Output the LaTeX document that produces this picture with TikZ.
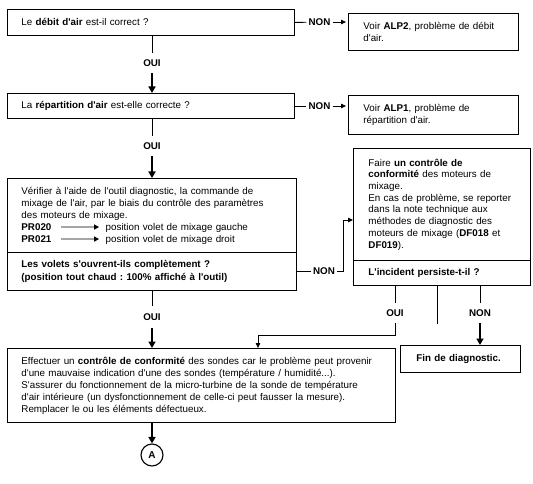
\documentclass[tikz,border=0pt]{standalone}
\usepackage{fontspec}
\setmainfont{Liberation Sans}[Ligatures=TeXOff]
\usetikzlibrary{arrows.meta}
\frenchspacing
\newcommand{\prarrow}{\tikz[baseline=-3pt]\draw[gray!70, line width=1.3pt, -{Triangle[width=5pt,length=5pt,black]}] (0pt,0pt)--(38pt,0pt);\hspace{6pt}}
\tikzset{
  txt/.style={font=\fontsize{9.8pt}{12pt}\selectfont},
  box/.style={txt, draw, line width=0.9pt, anchor=north west, align=left, inner xsep=14pt, inner ysep=0pt},
  lbl/.style={txt, font=\fontsize{9.8pt}{12pt}\selectfont\bfseries, inner xsep=2pt, inner ysep=6.5pt},
  conn/.style={line width=0.9pt},
  bigarrow/.style={line width=1.6pt, -{Triangle[width=7pt,length=6.5pt]}},
  smallarrow/.style={line width=0.8pt, -{Triangle[width=4.5pt,length=5pt]}},
}
\begin{document}
\frenchspacing
\begin{tikzpicture}[x=1pt,y=-1pt]
\useasboundingbox (0,0) rectangle (533,484);

% boxes
\node[box, text width=259pt, minimum height=26pt] (q1) at (7,9) {Le \textbf{débit d'air} est-il correct ?};
\node[box, text width=140pt, minimum height=37pt, inner xsep=15pt] (alp2) at (348,13) {Voir \textbf{ALP2}, problème de débit\\d'air.};
\node[box, text width=259pt, minimum height=25pt] (q2) at (7,93) {La \textbf{répartition d'air} est-elle correcte ?};
\node[box, text width=140pt, minimum height=39pt, inner xsep=15pt] (alp1) at (348,95) {Voir \textbf{ALP1}, problème de\\répartition d'air.};
\node[box, text width=261pt, minimum height=74pt] (c3) at (7,178) {Vérifier à l'aide de l'outil diagnostic, la commande de\\mixage de l'air, par le biais du contrôle des paramètres\\des moteurs de mixage.\\\makebox[39pt][l]{\textbf{PR020}}\prarrow position volet de mixage gauche\\\makebox[39pt][l]{\textbf{PR021}}\prarrow position volet de mixage droit};
\node[box, text width=261pt, minimum height=38pt, font=\fontsize{9.8pt}{12.5pt}\selectfont\bfseries] (q3) at (7,252) {Les volets s'ouvrent-ils complètement ?\\(position tout chaud : 100\% affiché à l'outil)};
\node[box, text width=147pt, minimum height=112pt, inner xsep=15pt, font=\fontsize{9.8pt}{11.7pt}\selectfont] (c4) at (353,148) {Faire \textbf{un contrôle de}\\\textbf{conformité} des moteurs de\\mixage.\\En cas de problème, se reporter\\dans la note technique aux\\méthodes de diagnostic des\\moteurs de mixage (\textbf{DF018} et\\\textbf{DF019}).};
\node[box, text width=147pt, minimum height=25pt, inner xsep=15pt, font=\fontsize{9.8pt}{12pt}\selectfont\bfseries] (q4) at (353,260) {L'incident persiste-t-il ?};
\node[box, text width=360pt, minimum height=74pt] (c5) at (7,348) {Effectuer un \textbf{contrôle de conformité} des sondes car le problème peut provenir\\d'une mauvaise indication d'une des sondes (température / humidité...).\\S'assurer du fonctionnement de la micro-turbine de la sonde de température\\d'air intérieure (un dysfonctionnement de celle-ci peut fausser la mesure).\\Remplacer le ou les éléments défectueux.};
\node[box, text width=88pt, minimum height=27pt, inner xsep=16pt, font=\fontsize{9.8pt}{12pt}\selectfont\bfseries] (fin) at (400,345) {Fin de diagnostic.};
\node[txt, draw, circle, line width=1.1pt, minimum size=22pt, inner sep=0pt, font=\fontsize{10pt}{12pt}\selectfont\bfseries] (A) at (152,455) {A};

% labels
\node[lbl] (oui1) at (152,63) {OUI};
\node[lbl] (oui2) at (152,146) {OUI};
\node[lbl, inner ysep=7.5pt] (oui3) at (152,317) {OUI};
\node[lbl] (non1) at (319.5,22) {NON};
\node[lbl] (non2) at (319.5,106) {NON};
\node[lbl] (non3) at (324,271) {NON};
\node[lbl] (oui4) at (395,313) {OUI};
\node[lbl] (non4) at (480,313) {NON};

% connectors
\draw[conn] (q1.south -| oui1) -- (oui1);
\draw[bigarrow] (oui1) -- (q2.north -| oui1);
\draw[conn] (q2.south -| oui2) -- (oui2);
\draw[bigarrow] (oui2) -- (c3.north -| oui2);
\draw[conn] (q3.south -| oui3) -- (oui3);
\draw[bigarrow] (oui3) -- (c5.north -| oui3);

\draw[conn] (q1.east) -- (non1);
\draw[smallarrow, shorten >=2pt] (non1) -- (alp2.west |- non1);
\draw[conn] (q2.east |- non2) -- (non2);
\draw[smallarrow, shorten >=2pt] (non2) -- (alp1.west |- non2);

\coordinate (k) at (343,220);
\draw[conn] (q3.east |- non3) -- (non3);
\draw[smallarrow] (non3) -| (k) -- (c4.west |- k);

\draw[conn] (q4.south -| oui4) -- (oui4);
\coordinate (j) at (258,335);
\draw[smallarrow] (oui4) |- (j) -- (c5.north -| j);
\coordinate (m) at (437,324);
\draw[conn] (q4.south -| m) -- (m);
\draw[conn] (q4.south -| non4) -- (non4);
\draw[bigarrow] (non4) -- (fin.north -| non4);

\draw[bigarrow] (c5.south -| A) -- (A);
\end{tikzpicture}
\end{document}
